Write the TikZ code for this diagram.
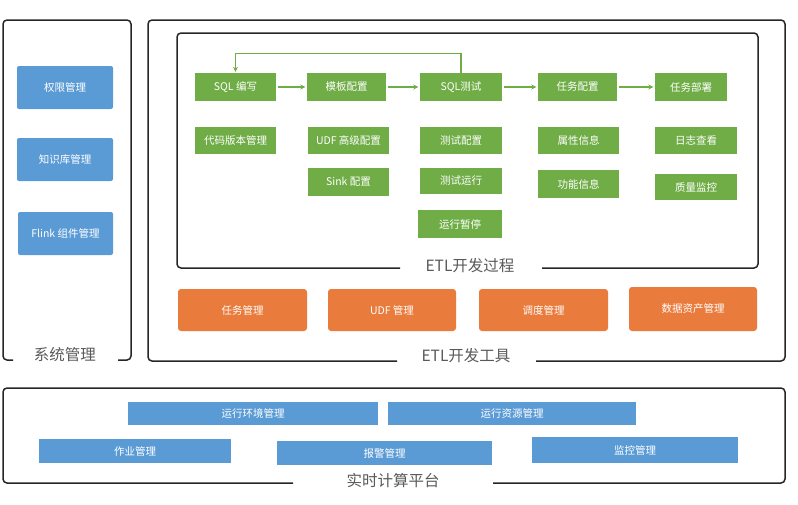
\documentclass[tikz,border=0pt]{standalone}
\usepackage{fontspec}
\setmainfont{Noto Sans CJK SC}
\usetikzlibrary{arrows.meta}
\definecolor{gbox}{HTML}{70AD47}
\definecolor{bbox}{HTML}{5B9BD5}
\definecolor{obox}{HTML}{E97B3C}
\definecolor{lbl}{HTML}{595959}
\tikzset{
  box/.style={draw=none, text=white, font=\fontsize{10.5}{12}\selectfont, inner sep=0pt, anchor=center},
  gb/.style={box, fill=gbox},
  bb/.style={box, fill=bbox},
  ob/.style={box, fill=obox, rounded corners=3pt},
  frame/.style={draw=black!85, line width=1.5pt, rounded corners=4pt},
  flabel/.style={text=lbl, font=\fontsize{15.5}{18}\selectfont, inner sep=0pt, anchor=center},
  garrow/.style={draw=gbox, line width=1.3pt, -{Stealth[length=5pt,width=5pt]}},
  wh/.style 2 args={minimum width=#1pt, minimum height=#2pt}
}
\begin{document}
\begin{tikzpicture}[x=1pt,y=-1pt]
\useasboundingbox (0,0) rectangle (798,504);
% frames
\draw[frame] (13,360) -- (3,360) -- (3,20) -- (131,20) -- (131,360) -- (118,360);
\node[flabel] (sys) at (65,355) {系统管理};
\draw[frame] (397,361) -- (148,361) -- (148,20) -- (785,20) -- (785,361) -- (536,361);
\node[flabel] (tool) at (466,356) {ETL开发工具};
\draw[frame] (400,268) -- (177,268) -- (177,33) -- (758,33) -- (758,268) -- (542,268);
\node[flabel] (proc) at (470,266) {ETL开发过程};
\draw[frame] (293,483) -- (3,483) -- (3,388) -- (785,388) -- (785,483) -- (493,483);
\node[flabel] (rt) at (393,481) {实时计算平台};
% left blue
\node[bb, rounded corners=2pt, wh={96}{43}] (b1) at (65,87.5) {权限管理};
\node[bb, rounded corners=2pt, wh={96}{43}] (b2) at (65,159.5) {知识库管理};
\node[bb, rounded corners=2pt, wh={95}{43}] (b3) at (65.5,233.5) {Flink 组件管理};
% green row 1
\node[gb, wh={81}{28}] (g11) at (235.5,87) {SQL 编写};
\node[gb, wh={79}{28}] (g12) at (346.5,87) {模板配置};
\node[gb, wh={82}{28}] (g13) at (461,87) {SQL测试};
\node[gb, wh={79}{28}] (g14) at (577.5,87) {任务配置};
\node[gb, wh={72}{28}] (g15) at (691,87) {任务部署};
% green row 2
\node[gb, wh={81}{27}] (g21) at (235.5,140.5) {代码版本管理};
\node[gb, wh={81}{27}] (g22) at (348.5,140.5) {UDF 高级配置};
\node[gb, wh={82}{27}] (g23) at (461,140.5) {测试配置};
\node[gb, wh={81}{27}] (g24) at (578.5,140.5) {属性信息};
\node[gb, wh={82}{27}] (g25) at (696,140.5) {日志查看};
% green row 3
\node[gb, wh={81}{28}] (g32) at (348.5,182) {Sink 配置};
\node[gb, wh={82}{26}] (g33) at (461,181) {测试运行};
\node[gb, wh={81}{28}] (g34) at (578.5,184) {功能信息};
\node[gb, wh={82}{26}] (g35) at (696,187) {质量监控};
% green row 4
\node[gb, wh={84}{28}] (g43) at (460,224) {运行暂停};
% arrows
\draw[garrow, shorten <=1.5pt, shorten >=1.5pt] (g11) -- (g12);
\draw[garrow, shorten <=1.5pt, shorten >=1.5pt] (g12) -- (g13);
\draw[garrow, shorten <=1.5pt, shorten >=1.5pt] (g13) -- (g14);
\draw[garrow, shorten <=1.5pt, shorten >=1.5pt] (g14) -- (g15);
\draw[garrow, shorten >=1pt] (g13.north) -- ++(0,-19) -| (g11.north);
% orange
\node[ob, wh={129}{42}] (o1) at (242.5,310) {任务管理};
\node[ob, wh={128}{42}] (o2) at (392,310) {UDF 管理};
\node[ob, wh={129}{42}] (o3) at (543.5,310) {调度管理};
\node[ob, wh={128}{44}] (o4) at (693,309) {数据资产管理};
% bottom blue
\node[bb, wh={250}{23}] (r1) at (253,413.5) {运行环境管理};
\node[bb, wh={248}{23}] (r2) at (512,413.5) {运行资源管理};
\node[bb, wh={192}{24}] (s1) at (135,451) {作业管理};
\node[bb, wh={215}{24}] (s2) at (384.5,453) {报警管理};
\node[bb, wh={206}{26}] (s3) at (635,450) {监控管理};
\end{tikzpicture}
\end{document}
